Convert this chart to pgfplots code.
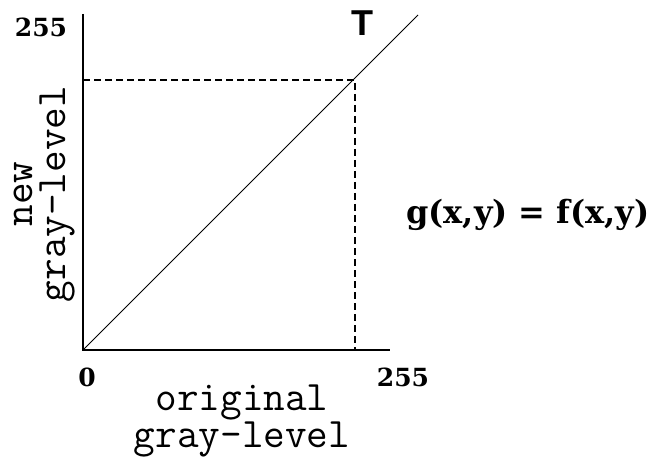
\documentclass[border=0pt]{standalone}
\usepackage{fontspec}
\setmainfont{DejaVu Serif}
\newfontfamily\sansb{Liberation Sans}
\usepackage{pgfplots}
\pgfplotsset{compat=1.18}
\begin{document}
\begin{tikzpicture}
\begin{axis}[
  scale only axis, width=655pt, height=464pt,
  xmin=-83, xmax=572, ymin=-114, ymax=350,
  hide axis, clip=false,
]
% background to fix the bounding box
\fill[white] (rel axis cs:0,0) rectangle (rel axis cs:1,1);
% axes
\addplot[black, line width=1.8pt] coordinates {(0,336) (0,0) (307,0)};
% transformation T: g = f
\addplot[black, line width=0.9pt] coordinates {(0,0) (335,335)};
% dashed guides
\addplot[black, line width=1.2pt, dash pattern=on 7pt off 4pt] coordinates {(0,270) (272,270) (272,0)};
% tick labels
\node[font=\bfseries\fontsize{25}{25}\selectfont] at (axis cs:-42,323) {255};
\node[font=\bfseries\fontsize{25}{25}\selectfont] at (axis cs:4,-27) {0};
\node[font=\bfseries\fontsize{25}{25}\selectfont] at (axis cs:320,-27) {255};
% T
\node[font=\sansb\bfseries\fontsize{36}{36}\selectfont] at (axis cs:279,327) {T};
% equation
\node[font=\bfseries\fontsize{32}{32}\selectfont] at (axis cs:445,135) {g(x,y) = f(x,y)};
% axis labels
\node[anchor=base, align=center, inner sep=0pt, font=\ttfamily\fontsize{42}{30}\selectfont] at (axis cs:159,-97) {original\\gray-level};
\node[anchor=base, rotate=90, align=center, inner sep=0pt, font=\ttfamily\fontsize{42}{33}\selectfont] at (axis cs:-18,156) {new\\gray-level};
\end{axis}
\end{tikzpicture}
\end{document}
